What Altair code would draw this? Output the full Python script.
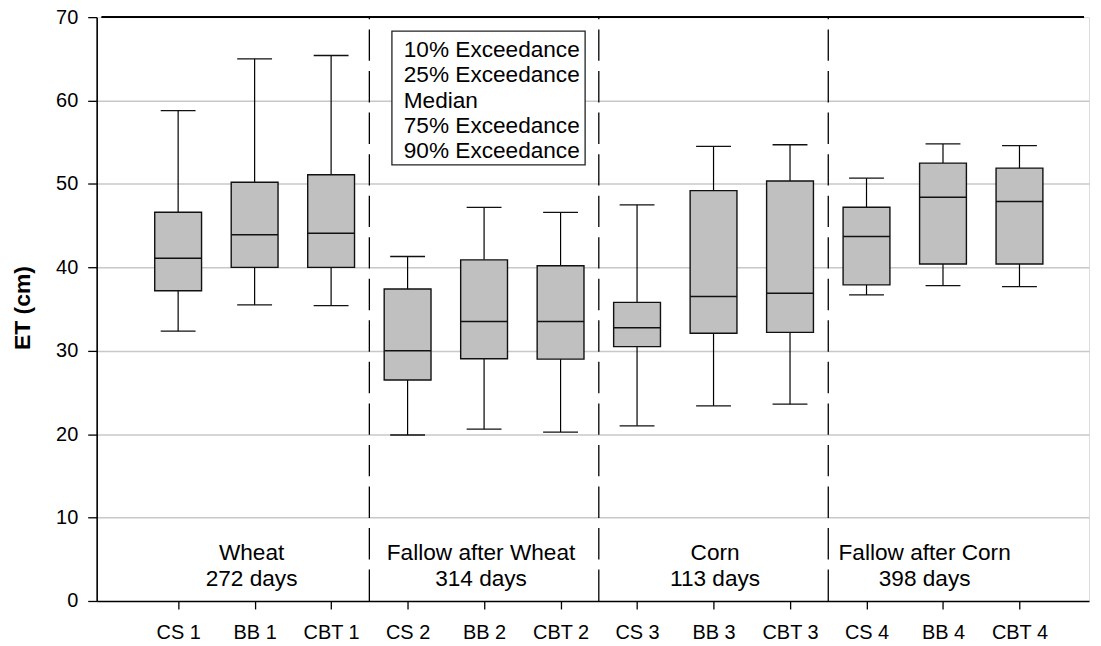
import altair as alt
import pandas as pd

# ---------------- data ----------------
categories = ["CS 1", "BB 1", "CBT 1", "CS 2", "BB 2", "CBT 2",
              "CS 3", "BB 3", "CBT 3", "CS 4", "BB 4", "CBT 4"]
positions = [1, 2, 3, 4, 5, 6, 7, 8, 9, 10, 11, 12]
exc10 = [58.8, 65.0, 65.4, 41.3, 47.2, 46.6, 47.5, 54.5, 54.7, 50.7, 54.8, 54.6]
exc25 = [46.6, 50.2, 51.1, 37.4, 40.9, 40.2, 35.8, 49.2, 50.35, 47.2, 52.5, 51.9]
median = [41.1, 43.9, 44.1, 30.0, 33.5, 33.5, 32.75, 36.5, 36.9, 43.7, 48.4, 47.9]
exc75 = [37.2, 40.0, 40.0, 26.5, 29.05, 29.0, 30.5, 32.1, 32.2, 37.9, 40.4, 40.4]
exc90 = [32.35, 35.5, 35.4, 19.9, 20.6, 20.25, 21.0, 23.4, 23.6, 36.7, 37.8, 37.7]

divider_x = [3.5, 6.5, 9.5]

section_names = ["Wheat", "Fallow after Wheat", "Corn", "Fallow after Corn"]
section_days = ["272 days", "314 days", "113 days", "398 days"]
section_x = [1.96, 4.96, 8.02, 10.76]
section_name_y = [5.78, 5.78, 5.78, 5.78]
section_days_y = [2.63, 2.63, 2.63, 2.63]

legend_labels = ["10% Exceedance", "25% Exceedance", "Median",
                 "75% Exceedance", "90% Exceedance"]
legend_y = [66.1, 63.1, 60.0, 56.9, 53.9]
legend_text_x = [3.95] * 5
legend_box = {"x": [3.795], "x2": [6.321], "y": [68.33], "y2": [52.29]}

y_ticks = [0, 10, 20, 30, 40, 50, 60, 70]
X_MAX = 12.844
Y_MAX = 70

FONT = "Liberation Sans"

boxes = pd.DataFrame({"cat": categories, "pos": positions, "p10": exc10,
                      "p25": exc25, "med": median, "p75": exc75, "p90": exc90})
dividers = pd.DataFrame({"x": divider_x})
sections = pd.DataFrame({"x": section_x, "name": section_names, "days": section_days,
                         "ny": section_name_y, "dy": section_days_y})
legend_df = pd.DataFrame({"label": legend_labels, "y": legend_y, "x": legend_text_x})
box_df = pd.DataFrame(legend_box)

label_expr = "[" + ",".join("'" + c + "'" for c in categories) + "][datum.value - 1]"

xscale = alt.Scale(domain=[0, X_MAX], nice=False, zero=False)
yscale = alt.Scale(domain=[0, Y_MAX], nice=False)

xaxis = alt.Axis(values=positions, labelExpr=label_expr, title=None, grid=False,
                 tickSize=8, tickWidth=1.3, tickColor="black", domainColor="black",
                 domainWidth=1.6, labelFontSize=20, labelFont=FONT, labelColor="black",
                 labelPadding=14, labelAngle=0)
yaxis = alt.Axis(values=y_ticks, title="ET (cm)", grid=True,
                 gridColor="#c8c8c8", gridWidth=1.5,
                 gridOpacity={"condition": {"test": "datum.value == 0 || datum.value == 70",
                                            "value": 0}, "value": 1},
                 tickSize=9, tickWidth=1.3, tickColor="black", domainColor="black",
                 domainWidth=1.6, labelFontSize=20, labelFont=FONT, labelColor="black",
                 labelPadding=10,
                 titleFont=FONT, titleFontSize=23, titleFontWeight="bold", titleColor="black",
                 titleAngle=270, titleX=-67, titleY=291.5, titleAlign="center",
                 titleBaseline="alphabetic")


def X(field):
    return alt.X(field, type="quantitative", scale=xscale, axis=xaxis)


def Y(field):
    return alt.Y(field, type="quantitative", scale=yscale, axis=yaxis)


base = alt.Chart(boxes)

whisk_hi = base.mark_rule(color="black", strokeWidth=1.2).encode(
    x=X("pos"), y=Y("p10"), y2="p25")
whisk_lo = base.mark_rule(color="black", strokeWidth=1.2).encode(
    x=X("pos"), y=Y("p75"), y2="p90")
box = base.mark_bar(size=47, color="#c0c0c0", stroke="#111111", strokeWidth=1.4).encode(
    x=X("pos"), y=Y("p25"), y2="p75")
med = base.mark_tick(orient="horizontal", size=47, thickness=1.5, color="#111111",
                     opacity=1).encode(x=X("pos"), y=Y("med"))
cap_hi = base.mark_tick(orient="horizontal", size=35, thickness=1.3, color="#111111",
                        opacity=1).encode(x=X("pos"), y=Y("p10"))
cap_lo = base.mark_tick(orient="horizontal", size=35, thickness=1.3, color="#111111",
                        opacity=1).encode(x=X("pos"), y=Y("p90"))

div = alt.Chart(dividers).mark_rule(color="black", strokeWidth=1.3,
                                    strokeDash=[31.5, 10.2]).encode(
    x=X("x"), y=alt.datum(0, scale=yscale), y2=alt.datum(Y_MAX))

top_line = alt.Chart(dividers).mark_rule(color="black", strokeWidth=1.6).encode(
    x=alt.datum(0, scale=xscale), x2=alt.datum(X_MAX), y=alt.datum(Y_MAX, scale=yscale))

sec_name = alt.Chart(sections).mark_text(fontSize=22.7, font=FONT, color="black",
                                         align="center", baseline="middle").encode(
    x=X("x"), y=Y("ny"), text="name")
sec_days = alt.Chart(sections).mark_text(fontSize=22.7, font=FONT, color="black",
                                         align="center", baseline="middle").encode(
    x=X("x"), y=Y("dy"), text="days")

leg_box = alt.Chart(box_df).mark_rect(fill="white", stroke="#222222", strokeWidth=1.3).encode(
    x=X("x"), x2="x2", y=Y("y"), y2="y2")
leg_text = alt.Chart(legend_df).mark_text(fontSize=22.7, font=FONT, color="black",
                                          align="left", baseline="middle").encode(
    x=X("x"), y=Y("y"), text="label")

chart = alt.layer(
    div, top_line, whisk_hi, whisk_lo, box, med, cap_hi, cap_lo,
    sec_name, sec_days, leg_box, leg_text
).properties(
    width=996, height=586,
    padding={"left": 89, "top": 8, "right": 4, "bottom": 40},
    autosize=alt.AutoSizeParams(type="none"),
).configure_view(stroke=None).configure(background="white")

chart.save("out.html", embed_options={"renderer": "svg", "actions": False})
